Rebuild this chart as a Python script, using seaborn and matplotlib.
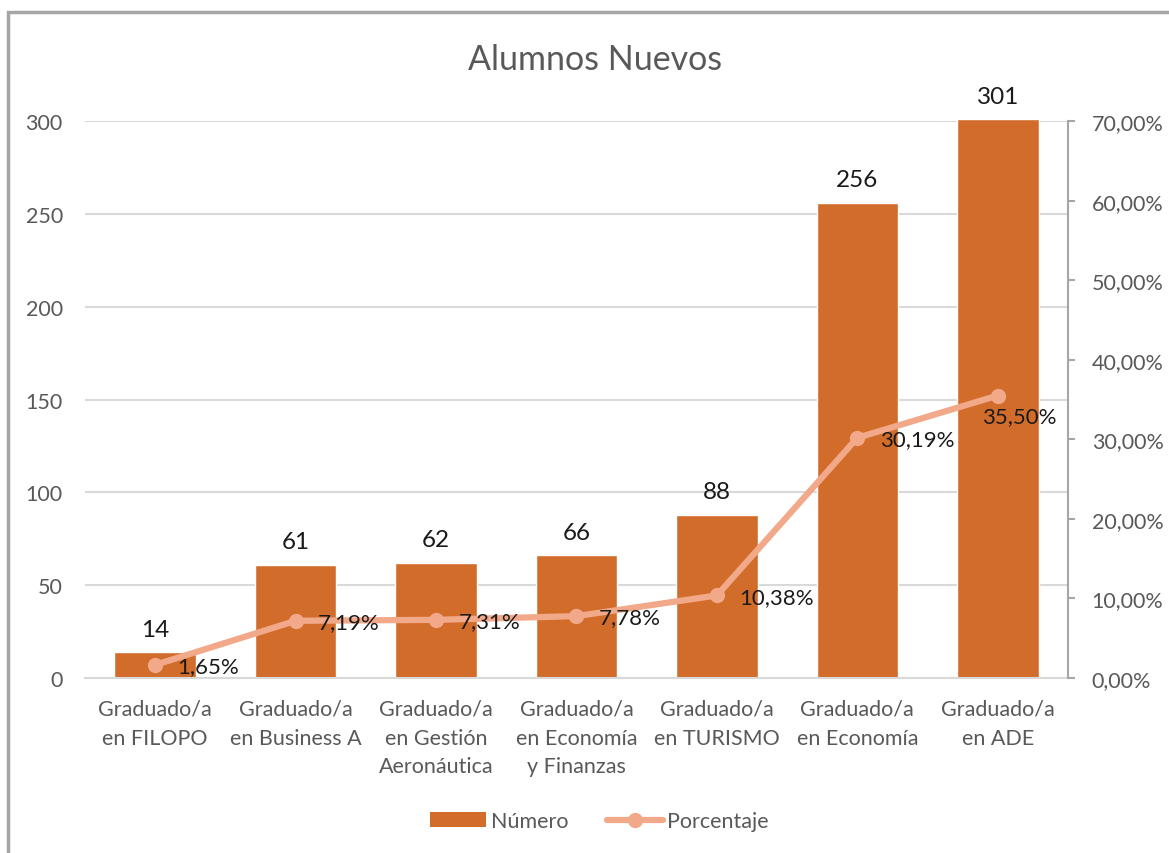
import matplotlib as mpl
mpl.use("Agg")
import matplotlib.pyplot as plt
import matplotlib.ticker as mticker
from matplotlib.patches import Rectangle
from matplotlib.lines import Line2D
from matplotlib.patches import Patch
import numpy as np
import pandas as pd
import seaborn as sns

# data
carreras = ["Graduado/a\nen FILOPO", "Graduado/a\nen Business A", "Graduado/a\nen Gestión\nAeronáutica",
            "Graduado/a\nen Economía\ny Finanzas", "Graduado/a\nen TURISMO", "Graduado/a\nen Economía",
            "Graduado/a\nen ADE"]
numero = [14, 61, 62, 66, 88, 256, 301]
porcentaje = [1.65, 7.19, 7.31, 7.78, 10.38, 30.19, 35.50]

BAR = "#D26C2B"
LINE = "#F2A98A"
GREY = "#595959"

sns.set_theme(style="white")
plt.rcParams['font.family'] = ['Lato', 'DejaVu Sans']

df = pd.DataFrame({"carrera": carreras, "numero": numero, "pct": porcentaje,
                   "pos": np.arange(len(carreras))})

fig = plt.figure(figsize=(11.69, 8.54), dpi=100)
ax = fig.add_axes([0.0727, 0.2049, 0.9136 - 0.0727, 0.8571 - 0.2049])

sns.barplot(data=df, x="carrera", y="numero", color=BAR, width=0.58, saturation=1, ax=ax)
for p in ax.patches:
    p.set_clip_on(False)
ax.set_xlim(-0.5, len(carreras) - 0.5)
ax.set_ylim(0, 300)
ax.set_yticks(range(0, 301, 50))
ax.yaxis.grid(True, color="#D9D9D9", lw=1.5)
ax.set_axisbelow(True)
for s in ["top", "right", "left"]:
    ax.spines[s].set_visible(False)
ax.spines["bottom"].set_color("#D9D9D9")
ax.spines["bottom"].set_linewidth(1.5)
ax.tick_params(axis="both", length=0, labelsize=15.5, labelcolor=GREY)
ax.tick_params(axis="y", pad=16)
ax.tick_params(axis="x", pad=15)
ax.set_xlabel("")
ax.set_ylabel("")
for lab in ax.get_xticklabels():
    lab.set_ha("center")
    lab.set_multialignment("center")
    lab.set_linespacing(1.55)

for i, v in enumerate(numero):
    ax.annotate(str(v), (i, v), xytext=(0, 9), textcoords="offset points",
                ha="center", va="bottom", fontsize=17.5, color="#1a1a1a",
                annotation_clip=False)

ax2 = ax.twinx()
sns.lineplot(data=df, x="pos", y="pct", color=LINE, lw=4.5, marker="o", markersize=11,
             markeredgewidth=0, ax=ax2)
ax2.set_ylim(0, 70)
ax2.set_yticks(range(0, 71, 10))
ax2.yaxis.set_major_formatter(mticker.FuncFormatter(lambda v, p: f"{v:.2f}".replace(".", ",") + "%"))
for s in ["top", "left", "bottom"]:
    ax2.spines[s].set_visible(False)
ax2.spines["right"].set_color("#A6A6A6")
ax2.spines["right"].set_linewidth(1.5)
ax2.tick_params(axis="y", direction="out", length=5, width=1.5, color="#A6A6A6",
                labelsize=15.5, labelcolor=GREY, pad=12)
ax2.set_xlabel("")
ax2.set_ylabel("")
ax2.set_xlim(-0.5, len(carreras) - 0.5)

for i, v in enumerate(porcentaje):
    txt = f"{v:.2f}".replace(".", ",") + "%"
    off = (16, -1) if i < len(porcentaje) - 1 else (-11, -15)
    ax2.annotate(txt, (i, v), xytext=off, textcoords="offset points",
                 ha="left", va="center", fontsize=16, color="#1a1a1a")

fig.text(0.509, 0.930, "Alumnos Nuevos", ha="center", va="center", fontsize=24.5, color=GREY)

handles = [Patch(facecolor=BAR, edgecolor="none"),
           Line2D([0], [0], color=LINE, lw=4.5, marker="o", markersize=11, markeredgewidth=0)]
fig.legend(handles, ["Número", "Porcentaje"], loc="center", bbox_to_anchor=(0.513, 0.037),
           ncol=2, frameon=False, fontsize=15.5, labelcolor=GREY, handlelength=2.6,
           handletextpad=0.2, columnspacing=1.8)

# chart frame (left and top edges visible)
fig.add_artist(Rectangle((8 / 1169, -0.1), 1.2, 1 - 13 / 854 + 0.1, transform=fig.transFigure,
                         fill=False, edgecolor="#A6A6A6", lw=2.5))

fig.savefig("out.png", dpi=100)
